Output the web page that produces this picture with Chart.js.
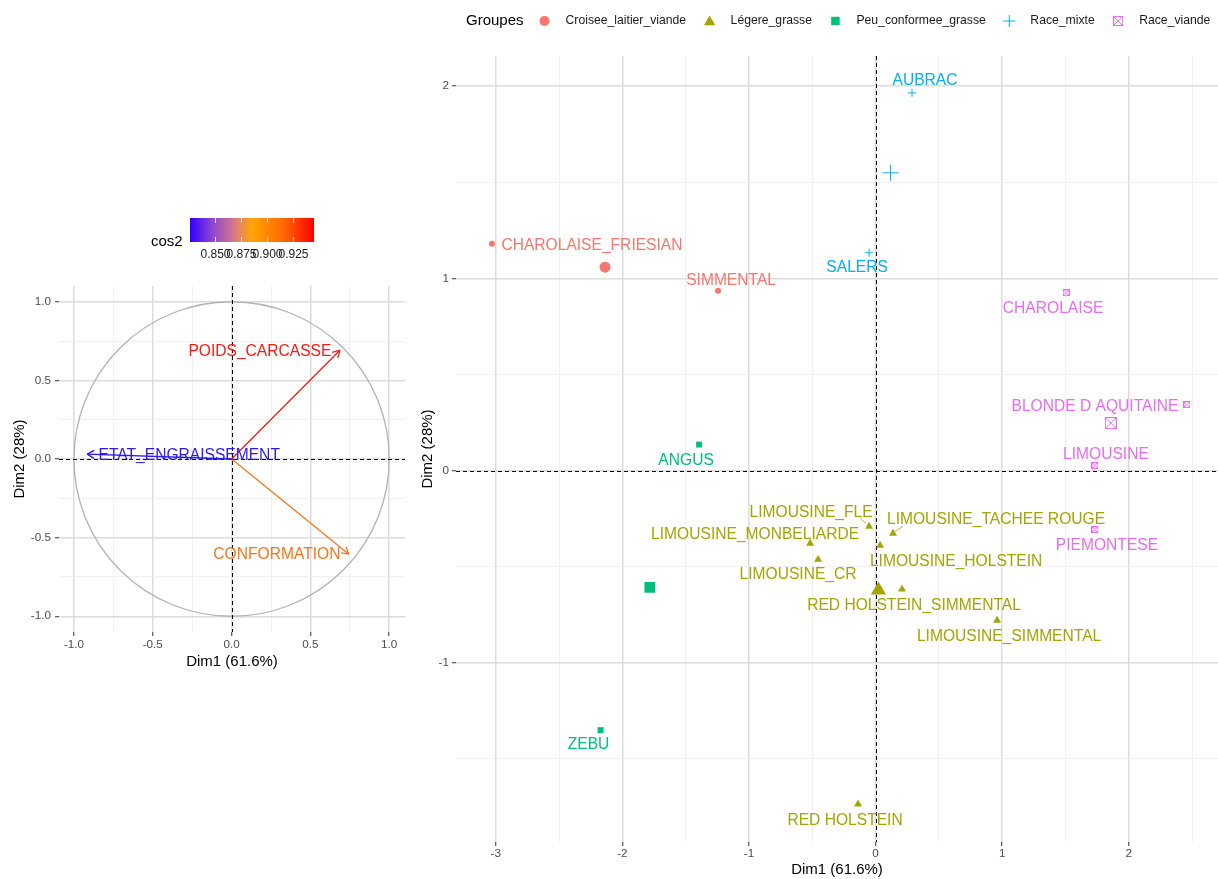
<!DOCTYPE html>
<html>

<head>
  <meta charset="utf-8">
  <title>ACP races bovines</title>
  <style>
    body {
      margin: 0;
      background: #fff;
      overflow: hidden;
    }

    .wrap {
      position: relative;
      width: 1218px;
      height: 879px;
      overflow: hidden;
    }

    #var-chart {
      position: absolute;
      left: 0;
      top: 0;
    }

    #ind-chart {
      position: absolute;
      left: 410px;
      top: 0;
    }
  </style>
</head>

<body>
  <div class="wrap">
    <canvas id="var-chart" width="420" height="879"></canvas>
    <canvas id="ind-chart" width="817" height="879"></canvas>
  </div>

  <script src="https://cdn.jsdelivr.net/npm/chart.js"></script>

  <script>
    // --- data: variables (correlation circle) ---
    const varNames = ['POIDS_CARCASSE', 'CONFORMATION', 'ETAT_ENGRAISSEMENT'];
    const varDim1 = [0.687, 0.744, -0.916];
    const varDim2 = [0.692, -0.605, 0.031];
    const cos2Ticks = [0.850, 0.875, 0.900, 0.925];
    const cos2Range = [0.826, 0.945];

    // --- data: individuals ---
    const groupNames = ['Croisee_laitier_viande', 'Légere_grasse', 'Peu_conformee_grasse', 'Race_mixte', 'Race_viande'];
    const indNames = ['CHAROLAISE_FRIESIAN', 'SIMMENTAL', 'LIMOUSINE_FLE', 'LIMOUSINE_TACHEE ROUGE',
      'LIMOUSINE_MONBELIARDE', 'LIMOUSINE_HOLSTEIN', 'LIMOUSINE_CR', 'RED HOLSTEIN_SIMMENTAL',
      'LIMOUSINE_SIMMENTAL', 'RED HOLSTEIN', 'ANGUS', 'ZEBU', 'AUBRAC', 'SALERS',
      'CHAROLAISE', 'BLONDE D AQUITAINE', 'LIMOUSINE', 'PIEMONTESE'];
    const indGroup = [0, 0, 1, 1, 1, 1, 1, 1, 1, 1, 2, 2, 3, 3, 4, 4, 4, 4];
    const indDim1 = [-3.03, -1.244, -0.051, 0.138, -0.517, 0.036, -0.454, 0.209, 0.96, -0.138,
      -1.394, -2.172, 0.288, -0.051, 1.505, 2.46, 1.733, 1.733];
    const indDim2 = [1.18, 0.936, -0.291, -0.327, -0.379, -0.39, -0.463, -0.618, -0.78, -1.736,
      0.135, -1.351, 1.965, 1.133, 0.925, 0.343, 0.026, -0.307];

    // --- styles ---
    const FONT = "'Liberation Sans', Arial, sans-serif";
    Chart.defaults.font.family = FONT;

    const varColors = ['#F51B13', '#F5761C', '#2B18F3'];
    const varLabelShift = [[-80, 2], [-72, 1], [102, 2]];
    const groupColors = ['#F8766D', '#A3A500', '#00BF7D', '#00B0F6', '#E76BF3'];
    // label offsets (px) from the point, like ggrepel placed them
    const labelShift = [[100, 2], [13, -10], [-58, -14], [103, -14], [-55, -9], [76, 16], [-20, 15],
      [12, 16], [12, 16], [-13, 17], [-13, 16], [-12, 15], [13, -12], [-12, 15], [-13, 16],
      [-92, 2], [11, -11], [12, 16]];
    const repelSegments = { 2: [[-3, -3], [-9, -8]], 3: [[2, -2], [10, -7]] };

    function boxX(size, color) {
      const c = document.createElement('canvas');
      c.width = size; c.height = size;
      const g = c.getContext('2d');
      g.strokeStyle = color; g.lineWidth = 1;
      g.strokeRect(0.5, 0.5, size - 1, size - 1);
      g.beginPath();
      g.moveTo(1, 1); g.lineTo(size - 1, size - 1);
      g.moveTo(size - 1, 1); g.lineTo(1, size - 1);
      g.stroke();
      return c;
    }

    const indShapes = ['circle', 'triangle', 'rect', 'cross', boxX(7, groupColors[4])];
    const meanShapes = ['circle', 'triangle', 'rect', 'cross', boxX(12, groupColors[4])];
    const keyShapes = ['circle', 'triangle', 'rect', 'cross', boxX(10, groupColors[4])];
    const indRadius = [3, 4.6, 4.2, 4, 4];
    const meanRadius = [5.5, 8.7, 7.6, 8, 6];
    const keyRadius = [5, 6.5, 6, 6, 5];

    const isMajor = (v, step) => Math.abs(v / step - Math.round(v / step)) < 1e-6;

    function axis(o) {
      return {
        type: 'linear',
        min: o.min,
        max: o.max,
        afterFit: s => { if (o.horizontal) s.height = o.size; else s.width = o.size; },
        border: { display: false },
        grid: {
          color: c => isMajor(c.tick.value, o.major) ? '#DCDCDC' : '#EEEEEE',
          lineWidth: c => isMajor(c.tick.value, o.major) ? 1.5 : 0.8,
          drawTicks: true,
          tickLength: 4,
          tickWidth: 1,
          tickColor: c => isMajor(c.tick.value, o.major) ? '#333333' : 'rgba(0,0,0,0)'
        },
        ticks: {
          stepSize: o.step,
          includeBounds: false,
          maxTicksLimit: 40,
          autoSkip: false,
          maxRotation: 0,
          padding: o.pad,
          color: '#4D4D4D',
          font: { size: 11.7 },
          callback: v => isMajor(v, o.major) ? o.fmt(Math.abs(v) < 1e-9 ? 0 : v) : ''
        },
        title: {
          display: true,
          text: o.title,
          color: '#000',
          font: { size: 15 },
          padding: o.titlePad
        }
      };
    }

    const zeroLines = {
      id: 'zeroLines',
      beforeDatasetsDraw(chart) {
        const { ctx, chartArea: a, scales: { x, y } } = chart;
        const x0 = Math.round(x.getPixelForValue(0)) + 0.5;
        const y0 = Math.round(y.getPixelForValue(0)) + 0.5;
        ctx.save();
        ctx.strokeStyle = '#000';
        ctx.lineWidth = 1;
        ctx.setLineDash([4, 3]);
        ctx.beginPath();
        ctx.moveTo(a.left, y0); ctx.lineTo(a.right, y0);
        ctx.moveTo(x0, a.top); ctx.lineTo(x0, a.bottom);
        ctx.stroke();
        ctx.restore();
      }
    };

    // ---------- left: correlation circle ----------
    const circlePlugin = {
      id: 'circle',
      beforeDatasetsDraw(chart) {
        const { ctx, scales: { x, y } } = chart;
        const cx = x.getPixelForValue(0), cy = y.getPixelForValue(0);
        ctx.save();
        ctx.strokeStyle = '#B3B3B3';
        ctx.lineWidth = 1.3;
        ctx.beginPath();
        ctx.ellipse(cx, cy, x.getPixelForValue(1) - cx, cy - y.getPixelForValue(1), 0, 0, Math.PI * 2);
        ctx.stroke();
        ctx.restore();
      },
      afterDatasetsDraw(chart) {
        const { ctx, scales: { x, y } } = chart;
        const ox = x.getPixelForValue(0), oy = y.getPixelForValue(0);
        ctx.save();
        varNames.forEach((name, i) => {
          const tx = x.getPixelForValue(varDim1[i]), ty = y.getPixelForValue(varDim2[i]);
          const ang = Math.atan2(ty - oy, tx - ox);
          ctx.strokeStyle = varColors[i];
          ctx.lineWidth = 1.3;
          ctx.beginPath();
          [-1, 1].forEach(s => {
            ctx.moveTo(tx, ty);
            ctx.lineTo(tx - 8 * Math.cos(ang + s * Math.PI / 6), ty - 8 * Math.sin(ang + s * Math.PI / 6));
          });
          ctx.stroke();
          ctx.fillStyle = varColors[i];
          ctx.font = '15.6px ' + FONT;
          ctx.textAlign = 'center';
          ctx.textBaseline = 'middle';
          ctx.fillText(name, tx + varLabelShift[i][0], ty + varLabelShift[i][1]);
        });
        ctx.restore();
      },
      afterDraw(chart) {
        // cos2 colour bar
        const ctx = chart.ctx;
        const bx = 190, by = 218, bw = 124, bh = 24;
        ctx.save();
        const grad = ctx.createLinearGradient(bx, 0, bx + bw, 0);
        grad.addColorStop(0, '#3300FF');
        grad.addColorStop(0.18, '#8E46CF');
        grad.addColorStop(0.36, '#D77A88');
        grad.addColorStop(0.5, '#FFA500');
        grad.addColorStop(0.75, '#FF6A00');
        grad.addColorStop(1, '#FF0000');
        ctx.fillStyle = grad;
        ctx.fillRect(bx, by, bw, bh);
        ctx.strokeStyle = 'rgba(255,255,255,0.8)';
        ctx.lineWidth = 1;
        ctx.fillStyle = '#1A1A1A';
        ctx.font = '12px ' + FONT;
        ctx.textAlign = 'center';
        ctx.textBaseline = 'middle';
        cos2Ticks.forEach(t => {
          const px = Math.round(bx + (t - cos2Range[0]) / (cos2Range[1] - cos2Range[0]) * bw) + 0.5;
          ctx.beginPath();
          ctx.moveTo(px, by); ctx.lineTo(px, by + 5);
          ctx.moveTo(px, by + bh - 5); ctx.lineTo(px, by + bh);
          ctx.stroke();
          ctx.fillText(t.toFixed(3), px, 255);
        });
        ctx.fillStyle = '#000';
        ctx.font = '15px ' + FONT;
        ctx.textAlign = 'left';
        ctx.fillText('cos2', 151, 242);
        ctx.restore();
      }
    };

    new Chart(document.getElementById('var-chart'), {
      type: 'scatter',
      data: {
        datasets: varNames.map((name, i) => ({
          type: 'line',
          label: name,
          data: [{ x: 0, y: 0 }, { x: varDim1[i], y: varDim2[i] }],
          borderColor: varColors[i],
          borderWidth: 1.3,
          pointRadius: 0,
          fill: false
        }))
      },
      options: {
        responsive: false,
        animation: false,
        events: [],
        layout: { padding: { left: 0, right: 15, top: 286, bottom: 879 - 632 - 50 } },
        plugins: { legend: { display: false }, tooltip: { enabled: false } },
        scales: {
          x: axis({
            min: -1.095, max: 1.1, step: 0.25, major: 0.5, horizontal: true, size: 50, pad: 2,
            fmt: v => v.toFixed(1), title: 'Dim1 (61.6%)', titlePad: { top: 0, bottom: 11 }
          }),
          y: axis({
            min: -1.1, max: 1.1, step: 0.25, major: 0.5, size: 59, pad: 4,
            fmt: v => v.toFixed(1), title: 'Dim2 (28%)', titlePad: { top: 11, bottom: 0 }
          })
        }
      },
      plugins: [circlePlugin, zeroLines]
    });

    // ---------- right: individuals ----------
    const indPoints = indNames.map((n, i) => ({ x: indDim1[i], y: indDim2[i], i }));
    const groupMeans = groupNames.map((g, k) => {
      const pts = indPoints.filter(p => indGroup[p.i] === k);
      return {
        x: pts.reduce((s, p) => s + p.x, 0) / pts.length,
        y: pts.reduce((s, p) => s + p.y, 0) / pts.length
      };
    });

    const datasets = [];
    groupNames.forEach((g, k) => {
      datasets.push({
        label: g,
        data: indPoints.filter(p => indGroup[p.i] === k),
        pointStyle: indShapes[k],
        pointRadius: indRadius[k],
        backgroundColor: groupColors[k],
        borderColor: groupColors[k],
        borderWidth: k === 3 ? 1 : 0
      });
    });
    groupNames.forEach((g, k) => {
      datasets.push({
        label: g + ' (centre)',
        data: [groupMeans[k]],
        pointStyle: meanShapes[k],
        pointRadius: meanRadius[k],
        backgroundColor: groupColors[k],
        borderColor: groupColors[k],
        borderWidth: k === 3 ? 1 : 0
      });
    });

    const indLabels = {
      id: 'indLabels',
      afterDatasetsDraw(chart) {
        const { ctx, scales: { x, y } } = chart;
        ctx.save();
        ctx.font = '15.6px ' + FONT;
        ctx.textAlign = 'center';
        ctx.textBaseline = 'middle';
        indNames.forEach((name, i) => {
          const px = x.getPixelForValue(indDim1[i]), py = y.getPixelForValue(indDim2[i]);
          const col = groupColors[indGroup[i]];
          const seg = repelSegments[i];
          if (seg) {
            ctx.strokeStyle = col;
            ctx.lineWidth = 0.8;
            ctx.beginPath();
            ctx.moveTo(px + seg[0][0], py + seg[0][1]);
            ctx.lineTo(px + seg[1][0], py + seg[1][1]);
            ctx.stroke();
          }
          ctx.fillStyle = col;
          ctx.fillText(name, px + labelShift[i][0], py + labelShift[i][1]);
        });
        ctx.restore();
      },
      afterDraw(chart) {
        // legend row at the top
        const ctx = chart.ctx;
        const cy = 21;
        let cx = 466 - 410;
        ctx.save();
        ctx.textBaseline = 'middle';
        ctx.textAlign = 'left';
        ctx.fillStyle = '#000';
        ctx.font = '15px ' + FONT;
        ctx.fillText('Groupes', cx, cy);
        cx += ctx.measureText('Groupes').width + 21;
        ctx.font = '12.2px ' + FONT;
        groupNames.forEach((g, k) => {
          ctx.fillStyle = groupColors[k];
          ctx.strokeStyle = groupColors[k];
          Chart.helpers.drawPoint(ctx, {
            pointStyle: keyShapes[k], radius: keyRadius[k], rotation: 0, borderWidth: k === 3 ? 1.2 : 0
          }, cx, cy + (k === 1 ? 1 : 0));
          ctx.fillStyle = '#1A1A1A';
          ctx.fillText(g, cx + 21, cy);
          cx += 21 + ctx.measureText(g).width + 23.5;
        });
        ctx.restore();
      }
    };

    new Chart(document.getElementById('ind-chart'), {
      type: 'scatter',
      data: { datasets },
      options: {
        responsive: false,
        animation: false,
        events: [],
        layout: { padding: { left: 0, right: 0, top: 56, bottom: 0 } },
        plugins: { legend: { display: false }, tooltip: { enabled: false } },
        scales: {
          x: axis({
            min: -3.314, max: 2.705, step: 0.5, major: 1, horizontal: true, size: 37, pad: 1,
            fmt: v => String(v), title: 'Dim1 (61.6%)', titlePad: { top: 0, bottom: 0 }
          }),
          y: axis({
            min: -1.933, max: 2.157, step: 0.5, major: 1, size: 46, pad: 3,
            fmt: v => String(v), title: 'Dim2 (28%)', titlePad: { top: 8.5, bottom: 0 }
          })
        }
      },
      plugins: [zeroLines, indLabels]
    });
  </script>
</body>

</html>
